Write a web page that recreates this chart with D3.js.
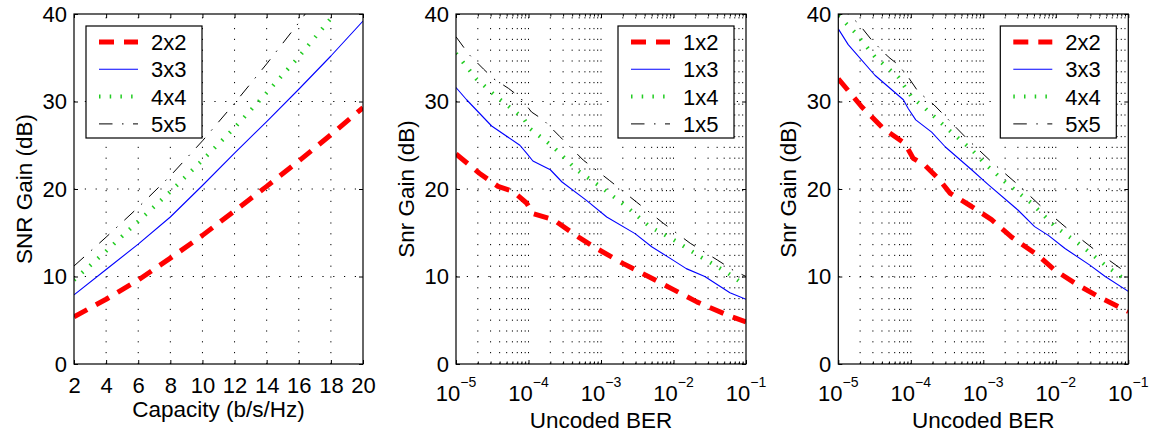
<!DOCTYPE html>
<html>
<head>
<meta charset="utf-8">
<script src="https://cdn.jsdelivr.net/npm/d3@7"></script>
<style>
  html, body { margin: 0; padding: 0; background: #fff; }
  svg { display: block; }
</style>
</head>
<body>
<script>
// ---------------- DATA ----------------
// Panel 1: SNR gain vs capacity
const capacity = [2, 4, 6, 8, 10, 12, 14, 16, 18, 20];
const gain2x2 = [5.4, 7.4, 9.6, 12.1, 14.7, 17.5, 20.3, 23.2, 26.2, 29.3];
const gain3x3 = [7.9, 10.8, 13.7, 16.8, 20.4, 24.1, 27.7, 31.4, 35.2, 39.2];
const gain4x4 = [9.6, 12.9, 16.3, 19.7, 23.3, 27.0, 31.0, 35.1, 39.5, 44.0];
const gain5x5 = [11.2, 14.5, 17.9, 21.5, 25.5, 29.8, 34.3, 39.0, 44.0, 49.0];
const legend1 = ["2x2", "3x3", "4x4", "5x5"];

// Panel 2: SNR gain vs uncoded BER, receive diversity  [BER, gain dB]
const rx1x2 = [[1e-5,24.0],[2.1e-5,21.8],[3.8e-5,20.3],[6.2e-5,19.7],[9.4e-5,18.4],[1.15e-4,17.2],[2.2e-4,16.5],[4.9e-4,14.5],[8.7e-4,13.2],[2e-3,11.5],[4.5e-3,10.0],[1e-2,8.5],[2.1e-2,7.1],[6.3e-2,5.4],[1e-1,4.8]];
const rx1x3 = [[1e-5,31.6],[1.4e-5,30.2],[3.1e-5,27.2],[7.6e-5,25.0],[9.4e-5,24.1],[1.15e-4,23.2],[2.0e-4,22.2],[2.9e-4,20.8],[6.3e-4,18.7],[1.2e-3,16.8],[2.95e-3,14.9],[5e-3,13.4],[8.9e-3,12.1],[1.5e-2,10.9],[2.7e-2,10.0],[6e-2,8.15],[1e-1,7.4]];
const rx1x4 = [[1e-5,35.5],[1.9e-5,32.6],[3.8e-5,30.4],[8.5e-5,28.1],[1.05e-4,26.9],[2.2e-4,24.8],[4.6e-4,22.2],[9.7e-4,20.3],[2.25e-3,18.0],[4.7e-3,15.7],[1e-2,14.2],[2.3e-2,12.3],[5.4e-2,10.5],[1e-1,8.9]];
const rx1x5 = [[1e-5,37.4],[1.5e-5,35.4],[2.4e-5,33.7],[3.3e-5,32.6],[5.3e-5,31.5],[7.6e-5,30.5],[1.1e-4,28.8],[1.6e-4,27.9],[2.7e-4,26.0],[5.7e-4,23.3],[1.3e-3,21.0],[3.1e-3,18.5],[7.2e-3,16.1],[1.7e-2,13.8],[4e-2,11.9],[6.7e-2,10.7],[1e-1,10.0]];
const legend2 = ["1x2", "1x3", "1x4", "1x5"];

// Panel 3: SNR gain vs uncoded BER, MIMO  [BER, gain dB]
const mimo2x2 = [[1e-5,32.6],[2.1e-5,29.4],[4.2e-5,26.9],[8.3e-5,25.2],[1.08e-4,23.5],[1.57e-4,22.7],[2.4e-4,21.2],[3.5e-4,19.5],[6.9e-4,18.0],[1.3e-3,16.5],[2.46e-3,14.5],[5.5e-3,12.5],[9.8e-3,10.7],[2.04e-2,9.0],[4.3e-2,7.5],[1e-1,6.0]];
const mimo3x3 = [[1e-5,38.3],[1.37e-5,36.5],[3.2e-5,33.0],[7.9e-5,30.2],[9.2e-5,29.2],[1.17e-4,27.9],[1.94e-4,26.5],[3e-4,24.8],[6.9e-4,22.2],[1.17e-3,20.5],[3e-3,17.6],[5.1e-3,15.7],[7.9e-3,14.7],[1.34e-2,13.2],[2.95e-2,11.3],[4.8e-2,10.0],[1e-1,8.3]];
const mimo4x4 = [[1e-5,39.8],[1.7e-5,37.9],[3.2e-5,35.1],[6.7e-5,32.8],[1.03e-4,30.5],[1.49e-4,29.4],[3e-4,27.1],[6.9e-4,24.5],[1.05e-3,22.9],[2e-3,20.8],[4.6e-3,18.4],[9.8e-3,15.7],[2.04e-2,13.8],[4.8e-2,11.3],[8.5e-2,9.8],[1e-1,9.4]];
const mimo5x5 = [[1e-5,41.0],[1.9e-5,38.9],[2.9e-5,37.0],[4.9e-5,35.1],[6.7e-5,34.2],[9.2e-5,32.8],[1.27e-4,31.1],[2.1e-4,29.6],[6.2e-4,25.6],[1.3e-3,23.1],[3e-3,20.5],[6.3e-3,18.0],[1.34e-2,15.7],[3.5e-2,13.0],[8.5e-2,10.7],[1e-1,10.4]];
const legend3 = ["2x2", "3x3", "4x4", "5x5"];

const yTicks = [0, 10, 20, 30, 40];
const capTicks = [2, 4, 6, 8, 10, 12, 14, 16, 18, 20];
const berMajor = [1e-5, 1e-4, 1e-3, 1e-2, 1e-1];
const berExp = ["\u22125", "\u22124", "\u22123", "\u22122", "\u22121"];

// ---------------- STYLES ----------------
const FONT = "'Liberation Sans', Arial, Helvetica, sans-serif";
const styles = [
  { color: "#ff0000", width: 5,   dash: "15,10" },
  { color: "#0000ff", width: 1.1, dash: null },
  { color: "#22cc22", width: 4,   dash: "1.5,9.2" },
  { color: "#000000", width: 1,   dash: "13.5,9.5,1.5,9.5" }
];

const W = 1151, H = 434;
const svg = d3.select("body").append("svg").attr("width", W).attr("height", H)
  .style("font-family", FONT);

function panel(cfg) {
  const { id, left, right, top, bottom, log } = cfg;
  const x = log
    ? d3.scaleLog().domain([1e-5, 1e-1]).range([left, right])
    : d3.scaleLinear().domain([2, 20]).range([left, right]);
  const y = d3.scaleLinear().domain([0, 40]).range([bottom, top]);
  const g = svg.append("g");

  g.append("clipPath").attr("id", "clip" + id)
    .append("rect").attr("x", left).attr("y", top)
    .attr("width", right - left).attr("height", bottom - top);

  // grid
  const xGridVals = (log ? x.ticks() : capTicks).filter(v => x(v) > left + 0.5 && x(v) < right - 0.5);
  g.selectAll(".vg").data(xGridVals).join("line")
    .attr("x1", d => x(d)).attr("x2", d => x(d))
    .attr("y1", bottom).attr("y2", top)
    .attr("stroke", "#000").attr("stroke-width", 1)
    .attr("stroke-dasharray", "1.2,9.6");
  g.selectAll(".hg").data([10, 20, 30]).join("line")
    .attr("x1", left).attr("x2", right)
    .attr("y1", d => y(d)).attr("y2", d => y(d))
    .attr("stroke", "#000").attr("stroke-width", 1)
    .attr("stroke-dasharray", "1.2,9.6");

  // series
  const line = d3.line().x(d => x(d[0])).y(d => y(d[1]));
  const lines = g.append("g").attr("clip-path", `url(#clip${id})`);
  cfg.series.forEach((s, i) => {
    const st = styles[i];
    lines.append("path").datum(s)
      .attr("d", line).attr("fill", "none")
      .attr("stroke", st.color).attr("stroke-width", st.width)
      .attr("stroke-dasharray", st.dash)
      .attr("stroke-linejoin", "round");
  });

  // axes ticks (inward)
  const majorX = log ? berMajor : capTicks;
  const axB = g.append("g").attr("transform", `translate(0,${bottom})`)
    .call(d3.axisBottom(x).tickValues(majorX).tickSize(-4).tickPadding(13)
      .tickFormat(log ? () => "" : d3.format("d")));
  const axT = g.append("g").attr("transform", `translate(0,${top})`)
    .call(d3.axisTop(x).tickValues(majorX).tickSize(-4).tickFormat(() => ""));
  if (log) {
    const minor = x.ticks().filter(v => !berMajor.includes(v));
    g.append("g").attr("transform", `translate(0,${bottom})`)
      .call(d3.axisBottom(x).tickValues(minor).tickSize(-2.5).tickFormat(() => ""));
    g.append("g").attr("transform", `translate(0,${top})`)
      .call(d3.axisTop(x).tickValues(minor).tickSize(-2.5).tickFormat(() => ""));
  }
  const axL = g.append("g").attr("transform", `translate(${left},0)`)
    .call(d3.axisLeft(y).tickValues(yTicks).tickSize(-4).tickPadding(7).tickFormat(d3.format("d")));
  const axR = g.append("g").attr("transform", `translate(${right},0)`)
    .call(d3.axisRight(y).tickValues(yTicks).tickSize(-4).tickFormat(() => ""));
  g.selectAll(".domain").remove();
  g.selectAll(".tick line").attr("stroke", "#000").attr("stroke-width", 1);
  g.selectAll(".tick text").attr("font-family", FONT).attr("font-size", 22).attr("fill", "#000");

  if (log) {
    const t = g.selectAll(".berlab").data(berMajor).join("text")
      .attr("x", d => x(d)).attr("y", bottom + 37)
      .attr("text-anchor", "middle").attr("font-size", 22).attr("fill", "#000");
    t.append("tspan").text("10");
    t.append("tspan").attr("dy", -14).attr("font-size", 14).text((d, i) => berExp[i]);
  }

  // box
  g.append("rect").attr("x", left).attr("y", top)
    .attr("width", right - left).attr("height", bottom - top)
    .attr("fill", "none").attr("stroke", "#000").attr("stroke-width", 1.2);

  // axis labels
  g.append("text").attr("x", (left + right) / 2).attr("y", cfg.xLabelY)
    .attr("text-anchor", "middle").attr("font-size", 22.5).attr("fill", "#000")
    .text(cfg.xLabel);
  g.append("text")
    .attr("transform", `translate(${left - 42},${(top + bottom) / 2}) rotate(-90)`)
    .attr("text-anchor", "middle").attr("font-size", 22.5).attr("fill", "#000")
    .text(cfg.yLabel);

  // legend
  const lx = cfg.legendLeft ? left + 12 : right - 12 - 116;
  const ly = 26;
  const lg = g.append("g");
  lg.append("rect").attr("x", lx).attr("y", ly).attr("width", 116).attr("height", 112)
    .attr("fill", "#fff").attr("stroke", "#000").attr("stroke-width", 1.2);
  cfg.legend.forEach((name, i) => {
    const st = styles[i];
    const cy = ly + 16 + i * 27.3;
    lg.append("line").attr("x1", lx + 13).attr("x2", lx + 52)
      .attr("y1", cy).attr("y2", cy)
      .attr("stroke", st.color).attr("stroke-width", st.width)
      .attr("stroke-dasharray", st.dash);
    lg.append("text").attr("x", lx + 65).attr("y", cy).attr("dy", "0.36em")
      .attr("font-size", 22).attr("fill", "#000").text(name);
  });
}

panel({
  id: 1, left: 74, right: 363, top: 14, bottom: 364, log: false,
  series: [gain2x2, gain3x3, gain4x4, gain5x5].map(arr => capacity.map((c, i) => [c, arr[i]])),
  legend: legend1, legendLeft: true,
  xLabel: "Capacity (b/s/Hz)", xLabelY: 417, yLabel: "SNR Gain (dB)"
});
panel({
  id: 2, left: 456, right: 746, top: 14, bottom: 364, log: true,
  series: [rx1x2, rx1x3, rx1x4, rx1x5],
  legend: legend2, legendLeft: false,
  xLabel: "Uncoded BER", xLabelY: 428, yLabel: "Snr Gain (dB)"
});
panel({
  id: 3, left: 838.3, right: 1128.3, top: 14, bottom: 364, log: true,
  series: [mimo2x2, mimo3x3, mimo4x4, mimo5x5],
  legend: legend3, legendLeft: false,
  xLabel: "Uncoded BER", xLabelY: 428, yLabel: "Snr Gain (dB)"
});
</script>
</body>
</html>
